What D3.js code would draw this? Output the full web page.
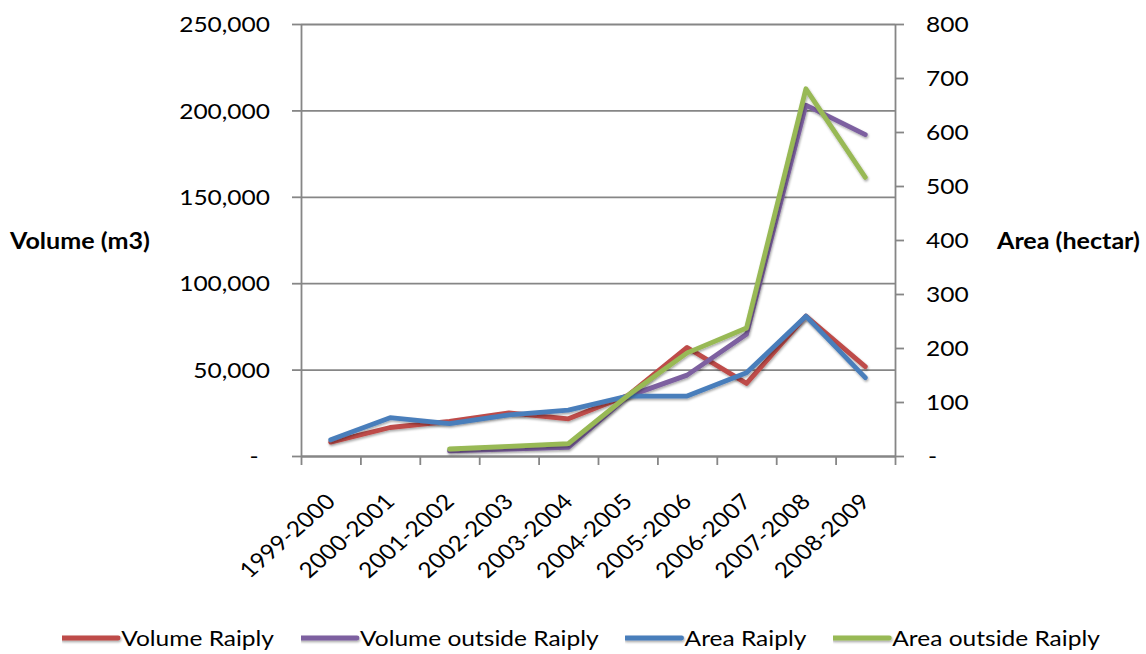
<!DOCTYPE html>
<html>
<head>
<meta charset="utf-8">
<script src="https://cdn.jsdelivr.net/npm/d3@7"></script>
<style>
  html, body { margin: 0; padding: 0; background: #ffffff; }
  svg { display: block; }
  text { font-family: Lato, "Open Sans", sans-serif; fill: #000; }
</style>
</head>
<body>
<svg id="chart" width="1146" height="654"></svg>
<script>
// Harvest seasons
const categories = ["1999-2000", "2000-2001", "2001-2002", "2002-2003", "2003-2004",
                    "2004-2005", "2005-2006", "2006-2007", "2007-2008", "2008-2009"];

// Harvested volume, m3 (left axis)
const volumeRaiply  = [8000, 16500, 20000, 25000, 21500, 35000, 62800, 42000, 81000, 51700];
const volumeOutside = [null, null, 3000, 4000, 5000, 34500, 46800, 70400, 203000, 186000];

// Harvested area, hectares (right axis)
const areaRaiply  = [30, 71, 60, 76, 85, 111, 111, 154, 259, 145];
const areaOutside = [null, null, 13, 18, 23, 112, 191, 237, 680, 516];

// Axis ticks
const volumeTicks = [0, 50000, 100000, 150000, 200000, 250000];
const areaTicks = [0, 100, 200, 300, 400, 500, 600, 700, 800];

const seriesNames = ["Volume Raiply", "Volume outside Raiply", "Area Raiply", "Area outside Raiply"];
const seriesColors = ["#BE4B48", "#7D60A0", "#4A7EBB", "#98B954"];

// Layout
const W = 1146, H = 654;
const plot = { left: 301, right: 895, top: 24, bottom: 456 };
const FONT_SIZE = 21.5;
const TITLE_SIZE = 22;
const STRETCH = 1.14;          // horizontal stretch applied to all text
const GRID = "#868686";

const svg = d3.select("#chart");

const x = d3.scaleBand().domain(categories).range([plot.left, plot.right]).padding(0);
const xTick = d3.scaleLinear().domain([0, categories.length]).range([plot.left, plot.right]);
const yL = d3.scaleLinear().domain([0, 250000]).range([plot.bottom, plot.top]);
const yR = d3.scaleLinear().domain([0, 800]).range([plot.bottom, plot.top]);
const cx = c => x(c) + x.bandwidth() / 2;

const fmt = d3.format(",");

// Drop shadow for the series lines
const defs = svg.append("defs");
const f = defs.append("filter").attr("id", "shadow")
  .attr("filterUnits", "userSpaceOnUse")
  .attr("x", 0).attr("y", 0).attr("width", W).attr("height", H);
f.append("feDropShadow").attr("dx", 0.8).attr("dy", 1.6).attr("stdDeviation", 0.9)
  .attr("flood-color", "#000").attr("flood-opacity", 0.35);

// Horizontal gridlines
svg.append("g")
  .attr("transform", `translate(${plot.left},0)`)
  .call(d3.axisLeft(yL).tickValues(volumeTicks).tickSize(-(plot.right - plot.left)).tickFormat(""))
  .call(g => g.select(".domain").remove())
  .call(g => g.selectAll("line").attr("stroke", GRID).attr("stroke-width", 1.8));

// Left axis
const leftAxis = svg.append("g")
  .attr("transform", `translate(${plot.left},0)`)
  .call(d3.axisLeft(yL).tickValues(volumeTicks).tickSize(9).tickSizeOuter(0)
        .tickFormat(d => d === 0 ? "-" : fmt(d)));
leftAxis.select(".domain").attr("stroke", GRID).attr("stroke-width", 1.8);
leftAxis.selectAll(".tick line").attr("stroke", GRID).attr("stroke-width", 1.8);
leftAxis.selectAll(".tick text")
  .attr("x", null).attr("dy", null)
  .attr("font-size", FONT_SIZE)
  .attr("text-anchor", "end")
  .attr("transform", d => `translate(${d === 0 ? -42.5 : -31},7.6) scale(${STRETCH},1)`);

// Right axis
const rightAxis = svg.append("g")
  .attr("transform", `translate(${plot.right},0)`)
  .call(d3.axisRight(yR).tickValues(areaTicks).tickSize(9).tickSizeOuter(0)
        .tickFormat(d => d === 0 ? "-" : d));
rightAxis.select(".domain").attr("stroke", GRID).attr("stroke-width", 1.8);
rightAxis.selectAll(".tick line").attr("stroke", GRID).attr("stroke-width", 1.8);
rightAxis.selectAll(".tick text")
  .attr("x", null).attr("dy", null)
  .attr("font-size", FONT_SIZE)
  .attr("text-anchor", "start")
  .attr("transform", d => `translate(${d === 0 ? 33 : 31},7.6) scale(${STRETCH},1)`);

// Bottom axis with ticks at category boundaries
const bottomAxis = svg.append("g")
  .attr("transform", `translate(0,${plot.bottom})`)
  .call(d3.axisBottom(xTick).tickValues(d3.range(categories.length + 1)).tickSize(9)
        .tickSizeOuter(0).tickFormat(""));
bottomAxis.select(".domain").attr("stroke", GRID).attr("stroke-width", 1.8);
bottomAxis.selectAll(".tick line").attr("stroke", GRID).attr("stroke-width", 1.8);

// Rotated category labels
svg.append("g").selectAll("g")
  .data(categories)
  .join("g")
  .attr("transform", d => `translate(${cx(d) + 6},${plot.bottom + 47}) scale(${STRETCH},1) rotate(-45)`)
  .append("text")
  .attr("text-anchor", "end")
  .attr("font-size", FONT_SIZE)
  .text(d => d);

// Series lines
const series = [
  { values: volumeRaiply,  y: yL },
  { values: volumeOutside, y: yL },
  { values: areaRaiply,    y: yR },
  { values: areaOutside,   y: yR }
];

series.forEach((s, i) => {
  const pts = categories.map((c, k) => ({ c, v: s.values[k] })).filter(p => p.v != null);
  const line = d3.line().x(p => cx(p.c)).y(p => s.y(p.v));
  svg.append("path")
    .datum(pts)
    .attr("d", line)
    .attr("fill", "none")
    .attr("stroke", seriesColors[i])
    .attr("stroke-width", 4.8)
    .attr("stroke-linejoin", "round")
    .attr("stroke-linecap", "round")
    .attr("filter", "url(#shadow)");
});

// Axis titles
function stretchedText(px, py, str, anchor, weight, size) {
  const g = svg.append("g").attr("transform", `translate(${px},${py}) scale(${STRETCH},1)`);
  return g.append("text")
    .attr("text-anchor", anchor)
    .attr("font-size", size)
    .attr("font-weight", weight || "normal")
    .text(str);
}
stretchedText(10, 249, "Volume (m3)", "start", "bold", TITLE_SIZE);
stretchedText(997, 249, "Area (hectar)", "start", "bold", TITLE_SIZE);

// Legend
const legendY = 638;
const lineLen = 56, lineGap = 3, itemGap = 27;
const legend = svg.append("g");
const items = seriesNames.map((name, i) => {
  const g = legend.append("g");
  g.append("line")
    .attr("x1", 0).attr("x2", lineLen)
    .attr("y1", legendY).attr("y2", legendY)
    .attr("stroke", seriesColors[i]).attr("stroke-width", 4.8)
    .attr("stroke-linecap", "round")
    .attr("filter", "url(#shadow)");
  const tg = g.append("g").attr("transform", `translate(${lineLen + lineGap},${legendY + 8}) scale(${STRETCH},1)`);
  const t = tg.append("text").attr("font-size", FONT_SIZE).text(name);
  const w = lineLen + lineGap + t.node().getComputedTextLength() * STRETCH;
  return { g, w };
});
const totalW = d3.sum(items, d => d.w) + itemGap * (items.length - 1);
let pos = 581 - totalW / 2;
items.forEach(it => {
  it.g.attr("transform", `translate(${pos},0)`);
  pos += it.w + itemGap;
});
</script>
</body>
</html>
